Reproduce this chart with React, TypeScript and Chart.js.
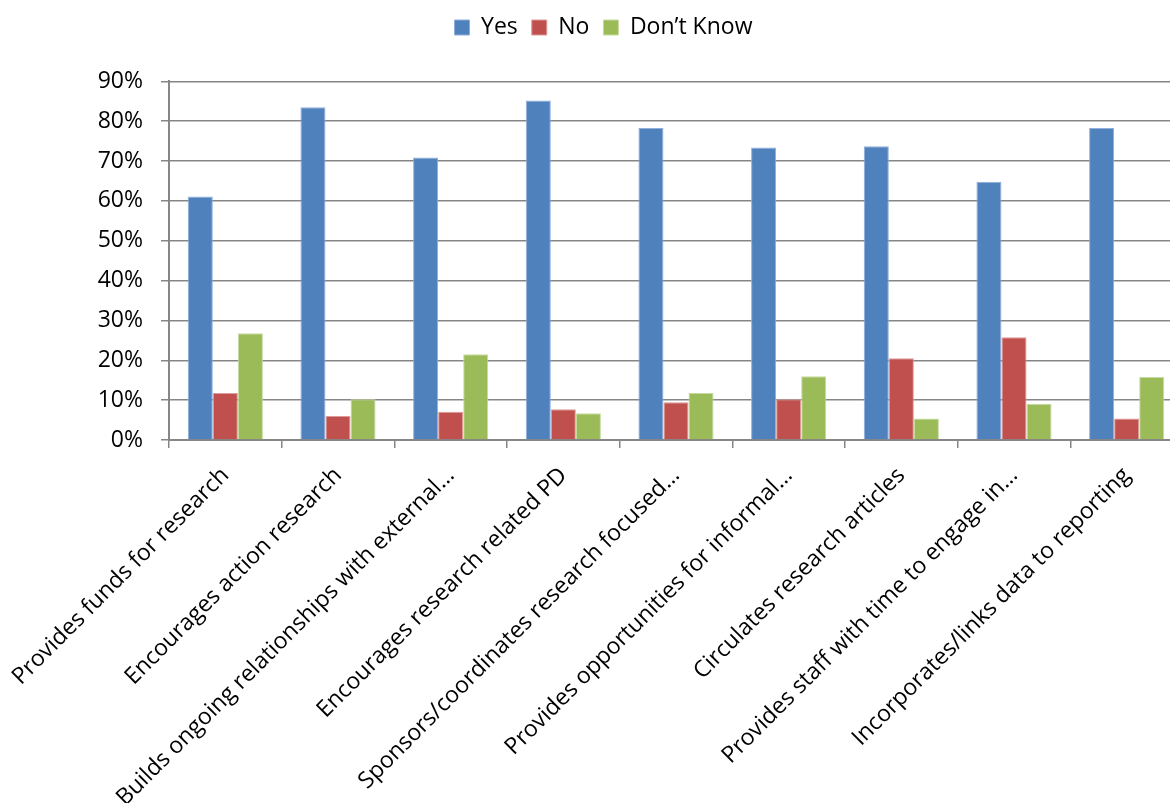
import React, { useEffect, useRef } from "react";
import { Chart, registerables } from "chart.js";

Chart.register(...registerables);

const categories = [
  "Provides funds for research",
  "Encourages action research",
  "Builds ongoing relationships with external…",
  "Encourages research related PD",
  "Sponsors/coordinates research focused…",
  "Provides opportunities for informal…",
  "Circulates research articles",
  "Provides staff with time to engage in…",
  "Incorporates/links data to reporting",
];

const yesValues = [61.1, 83.5, 70.9, 85.2, 78.3, 73.4, 73.7, 64.8, 78.3];
const noValues = [11.8, 6.0, 7.1, 7.7, 9.5, 10.2, 20.5, 25.8, 5.4];
const dontKnowValues = [26.8, 10.2, 21.5, 6.7, 11.8, 16.0, 5.4, 9.1, 15.8];

const seriesNames = ["Yes", "No", "Don’t Know"];

const FONT = "'Open Sans', 'DejaVu Sans', sans-serif";
const GRID = "#868686";

// nudges the centred legend to the right so it sits over the whole figure
const legendShift = {
  id: "legendShift",
  afterLayout(chart: any) {
    const lg = chart.legend;
    if (lg) {
      lg.left += 12;
      lg.right += 12;
    }
  },
};

export default function App() {
  const canvasRef = useRef<HTMLCanvasElement | null>(null);

  useEffect(() => {
    if (!canvasRef.current) return;
    Chart.defaults.font.family = FONT;
    const chart = new Chart(canvasRef.current, {
      type: "bar",
      data: {
        labels: categories,
        datasets: [
          {
            label: seriesNames[0],
            data: yesValues,
            backgroundColor: "#4F81BD",
            borderColor: "#8FAEDB",
            borderWidth: 1,
          },
          {
            label: seriesNames[1],
            data: noValues,
            backgroundColor: "#C0504D",
            borderColor: "#DE9A98",
            borderWidth: 1,
          },
          {
            label: seriesNames[2],
            data: dontKnowValues,
            backgroundColor: "#9BBB59",
            borderColor: "#C6DBA0",
            borderWidth: 1,
          },
        ],
      },
      options: {
        responsive: false,
        animation: false,
        layout: { padding: { left: 0, right: 0, top: 2, bottom: 0 } },
        datasets: {
          bar: { categoryPercentage: 0.667, barPercentage: 1 },
        },
        plugins: {
          legend: {
            position: "top",
            labels: {
              boxWidth: 15,
              boxHeight: 15,
              padding: 14,
              color: "#000",
              font: { size: 23, family: FONT },
            },
          },
          title: {
            display: true,
            text: "",
            weight: 500,
            padding: { top: 0, bottom: 0 },
            font: { size: 27 },
          },
          tooltip: { enabled: false },
        },
        scales: {
          x: {
            grid: {
              display: true,
              drawOnChartArea: false,
              drawTicks: true,
              tickLength: 8,
              color: GRID,
              lineWidth: 1.5,
            },
            border: { display: true, color: GRID, width: 2 },
            ticks: {
              autoSkip: false,
              minRotation: 45,
              maxRotation: 45,
              padding: 14,
              color: "#000",
              font: { size: 23, family: FONT },
            },
            afterFit(scale: any) {
              scale.height = 363;
              scale.paddingLeft = 0;
              scale.paddingRight = 0;
            },
          },
          y: {
            min: 0,
            max: 90,
            grid: {
              color: GRID,
              lineWidth: 1.5,
              tickLength: 8,
            },
            border: { display: true, color: GRID, width: 2 },
            ticks: {
              stepSize: 10,
              padding: 18,
              color: "#000",
              font: { size: 23, family: FONT },
              callback: (v: any) => `${v}%`,
            },
            afterFit(scale: any) {
              scale.width = 169;
            },
          },
        },
      },
      plugins: [legendShift],
    });
    return () => chart.destroy();
  }, []);

  return (
    <div
      style={{
        position: "fixed",
        left: 0,
        top: 0,
        width: 1170,
        height: 803,
        overflow: "hidden",
        background: "#fff",
      }}
    >
      <canvas ref={canvasRef} width={1183} height={803} />
    </div>
  );
}
